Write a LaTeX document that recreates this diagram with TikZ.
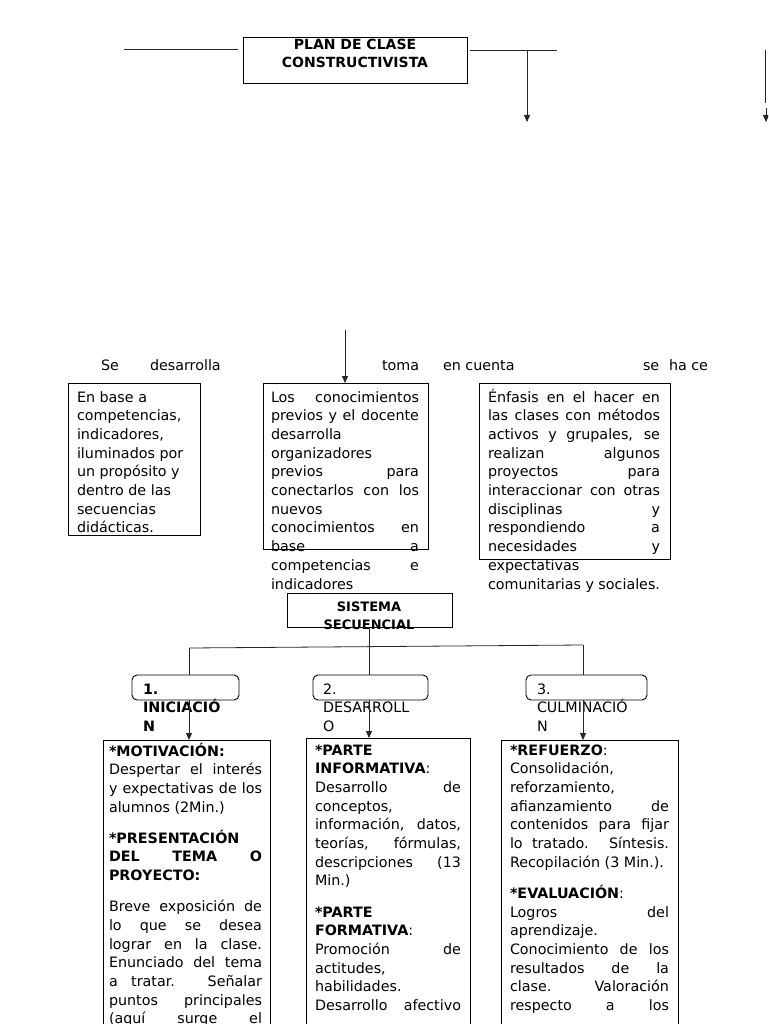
\documentclass[tikz,border=0pt]{standalone}
\usepackage{fontspec}
\setmainfont{DejaVu Sans}
\usetikzlibrary{arrows.meta}
\newcommand{\jtext}[2]{\parbox[t]{#1}{\hbadness=10000 \hfuzz=20pt \tolerance=10000 \setlength{\parskip}{12.4pt}\fontsize{14.3}{18.7}\selectfont #2}}
\newcommand{\rtext}[2]{\parbox[t]{#1}{\raggedright\fontsize{14.3}{18.7}\selectfont #2}}
\begin{document}
\begin{tikzpicture}[x=1pt,y=-1pt,
  frame/.style={draw=black, line width=0.9pt, inner sep=0pt, outer sep=0pt, anchor=north west},
  rframe/.style={frame, rounded corners=5pt},
  conn/.style={draw=black!85, line width=0.8pt},
  arr/.style={conn, -{Triangle[width=6pt,length=7pt]}},
  txt/.style={inner sep=0pt, outer sep=0pt, anchor=base west},
  word/.style={txt, font=\fontsize{14.3}{18.7}\selectfont},
  head/.style={inner sep=0pt, outer sep=0pt, anchor=base, font=\bfseries\fontsize{14}{17.5}\selectfont},
  shead/.style={inner sep=0pt, outer sep=0pt, anchor=base, font=\bfseries\fontsize{13}{18}\selectfont}
]
\useasboundingbox (0,0) rectangle (768,1024);
\clip (0,0) rectangle (768,1024);

% ---------- top box ----------
\node[frame, minimum width=224pt, minimum height=46pt] (plan) at (243,37) {};
\node[head] (plan1) at (355,50) {PLAN DE CLASE};
\node[head] (plan2) at (355,67.5) {CONSTRUCTIVISTA};
\coordinate (tl1) at (124,49);
\coordinate (tl2) at (238,49);
\coordinate (tr1) at (470,50);
\coordinate (tr2) at (557,50);
\coordinate (ta1) at (527,50);
\coordinate (ta2) at (527,122);
\draw[conn] (tl1) -- (tl2);
\draw[conn] (tr1) -- (tr2);
\draw[arr] (ta1) -- (ta2);
% partial shape at right edge
\coordinate (re1) at (765,50);
\coordinate (re2) at (765,103);
\coordinate (re3) at (766,108);
\coordinate (re4) at (766,122);
\draw[conn] (re1) -- (re2);
\draw[arr] (re3) -- (re4);

% ---------- row of words ----------
\node[word] (w1) at (101,370) {Se};
\node[word] (w2) at (150,370) {desarrolla};
\node[word] (w3) at (382,370) {toma};
\node[word] (w4) at (443,370) {en cuenta};
\node[word] (w5) at (643,370) {se};
\node[word] (w6) at (669,370) {ha ce};

% ---------- three boxes ----------
\node[frame, minimum width=132pt, minimum height=152pt] (bA) at (68,383) {};
\node[frame, minimum width=165pt, minimum height=166pt] (bB) at (263,383) {};
\node[frame, minimum width=191pt, minimum height=176pt] (bC) at (479,383) {};
\coordinate (aB) at (345,330);
\draw[arr] (aB) -- (bB.north -| aB);

\node[txt] (tA) at (77,402) {\rtext{125pt}{En base a\\competencias,\\indicadores,\\iluminados por\\un propósito y\\dentro de las\\secuencias\\didácticas.}};
\node[txt] (tB) at (271,402) {\jtext{148pt}{Los conocimientos\break previos y el docente\break desarrolla\break organizadores\break previos para\break conectarlos con los\break nuevos\break conocimientos en\break base a\break competencias e\break indicadores}};
\node[txt] (tC) at (488,402) {\jtext{172pt}{Énfasis en el hacer en\break las clases con métodos\break activos y grupales, se\break realizan algunos\break proyectos para\break interaccionar con otras\break disciplinas y\break respondiendo a\break necesidades y\break expectativas\break comunitarias y sociales.}};

% ---------- sistema secuencial ----------
\node[frame, minimum width=165pt, minimum height=34pt] (sis) at (287,593) {};
\node[shead] (sis1) at (369,611) {SISTEMA};
\node[shead] (sis2) at (369,629) {SECUENCIAL};

% ---------- stage boxes ----------
\node[rframe, minimum width=107pt, minimum height=25pt] (r1) at (132,675) {};
\node[rframe, minimum width=115pt, minimum height=25pt] (r2) at (313,675) {};
\node[rframe, minimum width=121pt, minimum height=25pt] (r3) at (526,675) {};
\node[txt] (r1t) at (143,694) {\rtext{110pt}{\bfseries 1.\\INICIACIÓ\\N}};
\node[txt] (r2t) at (323,694) {\rtext{110pt}{2.\\DESARROLL\\O}};
\node[txt] (r3t) at (537,694) {\rtext{110pt}{3.\\CULMINACIÓ\\N}};

\coordinate (h1) at (189,648);
\coordinate (h2) at (369,646.5);
\coordinate (h3) at (583,645);
\draw[conn] (h1) -- (h3);
\draw[conn] (sis.south -| h2) -- (r2.north -| h2);
\draw[conn] (h1) -- (r1.north -| h1);
\draw[conn] (h3) -- (r3.north -| h3);

% ---------- big boxes ----------
\node[frame, minimum width=167pt, minimum height=320pt] (b1) at (103,740) {};
\node[frame, minimum width=164pt, minimum height=320pt] (b2) at (306,738) {};
\node[frame, minimum width=177pt, minimum height=320pt] (b3) at (501,740) {};
\draw[arr] (r1.south -| h1) -- (b1.north -| h1);
\draw[arr] (r2.south -| h2) -- (b2.north -| h2);
\draw[arr] (r3.south -| h3) -- (b3.north -| h3);

\node[txt] (t1) at (109,756) {\jtext{153pt}{\textbf{*MOTIVACIÓN:}\break Despertar el interés\break y expectativas de los\break alumnos (2Min.)\par
\textbf{*PRESENTACIÓN}\break \textbf{DEL TEMA O}\break \textbf{PROYECTO:}\par
Breve exposición de\break lo que se desea\break lograr en la clase.\break Enunciado del tema\break a tratar. Señalar\break puntos principales\break (aquí surge el\parfillskip=0pt\par}};
\node[txt] (t2) at (315,755) {\jtext{146pt}{\textbf{*PARTE}\break \textbf{INFORMATIVA}:\break Desarrollo de\break conceptos,\break información, datos,\break teorías, fórmulas,\break descripciones (13\break Min.)\par
\textbf{*PARTE}\break \textbf{FORMATIVA}:\break Promoción de\break actitudes,\break habilidades.\break Desarrollo afectivo\parfillskip=0pt\par}};
\node[txt] (t3) at (510,755) {\jtext{159pt}{\textbf{*REFUERZO}:\break Consolidación,\break reforzamiento,\break afianzamiento de\break contenidos para fijar\break lo tratado. Síntesis.\break Recopilación (3 Min.).\par
\textbf{*EVALUACIÓN}:\break Logros del\break aprendizaje.\break Conocimiento de los\break resultados de la\break clase. Valoración\break respecto a los\parfillskip=0pt\par}};
\end{tikzpicture}
\end{document}
